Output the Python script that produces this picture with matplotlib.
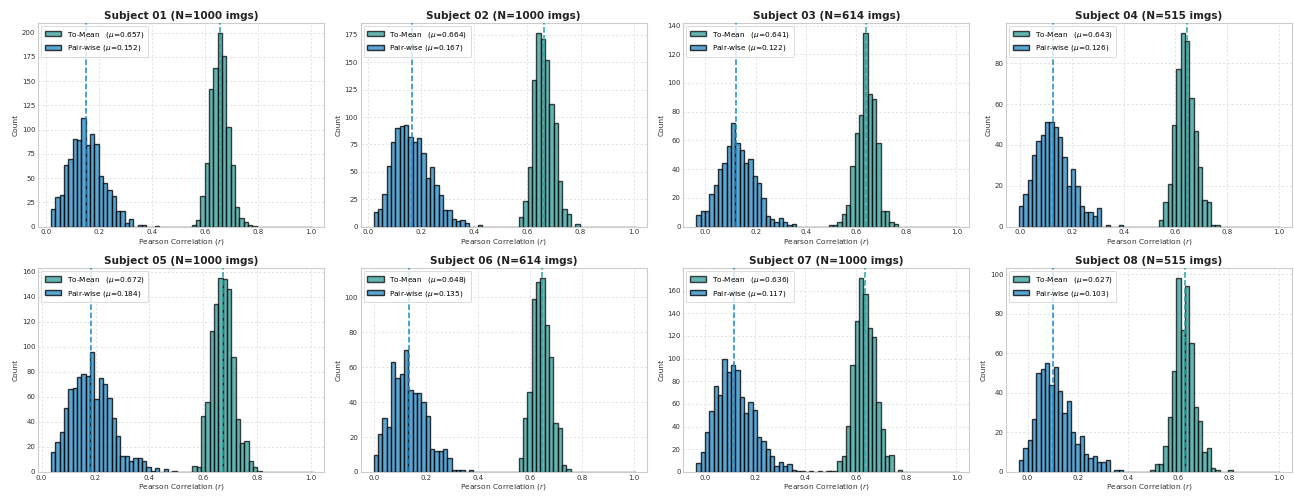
import numpy as np
import matplotlib.pyplot as plt
from matplotlib.ticker import MultipleLocator

N_BINS = 60

subjects = ["01", "02", "03", "04", "05", "06", "07", "08"]
n_imgs = [1000, 1000, 614, 515, 1000, 614, 1000, 515]
mean_tomean = [0.657, 0.664, 0.641, 0.643, 0.672, 0.648, 0.636, 0.627]
mean_pair = [0.152, 0.167, 0.122, 0.126, 0.184, 0.135, 0.117, 0.103]

# left edge of the first bin of each series
pair_start = [0.020, 0.022, -0.036, -0.004, 0.035, 0.000, -0.033, -0.034]
tomean_start = [0.550, 0.569, 0.491, 0.536, 0.559, 0.558, 0.492, 0.488]

# bin counts
pair_01 = [18, 30, 33, 64, 70, 90, 89, 112, 84, 96, 85, 52, 45, 38, 31, 16, 16, 4, 8, 0, 2, 2, 0, 0, 1]
pair_02 = [13, 16, 30, 55, 77, 90, 92, 93, 82, 77, 81, 67, 44, 54, 38, 29, 15, 15, 7, 5, 6, 3, 0, 0, 1]
pair_03 = [8, 11, 11, 23, 29, 40, 44, 56, 72, 58, 53, 44, 47, 35, 30, 20, 7, 5, 3, 6, 3, 1, 2]
pair_04 = [10, 16, 23, 35, 42, 45, 51, 51, 49, 44, 34, 20, 28, 20, 10, 7, 7, 5, 9, 0, 1, 0, 0, 1]
pair_05 = [16, 24, 32, 51, 66, 67, 76, 78, 77, 96, 58, 75, 70, 59, 43, 29, 13, 13, 9, 11, 11, 9, 4, 1, 3, 0, 2, 0, 1]
pair_06 = [10, 22, 31, 26, 63, 54, 56, 70, 47, 45, 45, 40, 32, 13, 12, 12, 13, 8, 1, 1, 1, 0, 1]
pair_07 = [8, 18, 35, 54, 76, 68, 100, 88, 94, 90, 66, 52, 62, 55, 31, 27, 20, 14, 5, 9, 5, 7, 2, 1, 1, 0, 1, 0, 1, 0, 1]
pair_08 = [6, 12, 16, 27, 50, 52, 55, 44, 53, 41, 30, 36, 20, 14, 18, 9, 7, 8, 5, 5, 6, 0, 1, 1]

tomean_01 = [2, 7, 32, 66, 142, 164, 200, 176, 103, 64, 20, 9, 5, 2, 1]
tomean_02 = [9, 23, 54, 134, 177, 171, 152, 112, 95, 42, 16, 11, 0, 2]
tomean_03 = [1, 1, 3, 9, 15, 42, 65, 78, 135, 92, 89, 58, 11, 11, 3, 2]
tomean_04 = [3, 12, 21, 50, 77, 95, 91, 63, 47, 29, 13, 12, 1, 1]
tomean_05 = [5, 4, 45, 56, 113, 134, 155, 154, 146, 92, 42, 23, 25, 9, 4, 1]
tomean_06 = [8, 31, 46, 99, 109, 111, 84, 66, 28, 25, 4, 2]
tomean_07 = [1, 1, 10, 14, 41, 94, 133, 171, 157, 127, 119, 62, 38, 14, 15, 0, 2]
tomean_08 = [1, 4, 4, 13, 28, 51, 98, 72, 94, 65, 33, 26, 10, 12, 2, 1, 0, 0, 1]

pair_counts = [pair_01, pair_02, pair_03, pair_04, pair_05, pair_06, pair_07, pair_08]
tomean_counts = [tomean_01, tomean_02, tomean_03, tomean_04, tomean_05, tomean_06, tomean_07, tomean_08]
y_steps = [25, 25, 20, 20, 20, 20, 20, 20]

TOMEAN_COLOR = "#2a9893"
PAIR_COLOR = "#2b8cc4"
TOMEAN_LINE = "#2aa3a0"
PAIR_LINE = "#1f88c8"


def padded(counts, start, width, stop):
    n = int(np.ceil((stop - start) / width - 1e-9))
    vals = list(counts) + [0] * max(0, n - len(counts))
    edges = start + width * np.arange(len(vals) + 1)
    return edges, np.array(vals, dtype=float)


fig, axes = plt.subplots(2, 4, figsize=(12.94, 4.96), dpi=100)
fig.subplots_adjust(left=0.0294, right=0.9985, top=0.9536, bottom=0.0484,
                    wspace=0.128, hspace=0.206)

for i, ax in enumerate(axes.flat):
    lo = pair_start[i]
    w = (1.0 - lo) / N_BINS

    e_tm, c_tm = padded(tomean_counts[i], tomean_start[i], w, 1.0)
    e_pw, c_pw = padded(pair_counts[i], lo, w, tomean_start[i])

    ax.hist(e_tm[:-1], bins=e_tm, weights=c_tm, color=TOMEAN_COLOR,
            edgecolor="black", linewidth=1.0, alpha=0.72,
            label=f"To-Mean   ($\\mu$={mean_tomean[i]:.3f})", zorder=2)
    ax.hist(e_pw[:-1], bins=e_pw, weights=c_pw, color=PAIR_COLOR,
            edgecolor="black", linewidth=1.0, alpha=0.78,
            label=f"Pair-wise ($\\mu$={mean_pair[i]:.3f})", zorder=2)

    ax.axvline(mean_tomean[i], color=TOMEAN_LINE, linestyle="--", linewidth=1.1, zorder=3)
    ax.axvline(mean_pair[i], color=PAIR_LINE, linestyle="--", linewidth=1.1, zorder=3)

    ax.set_xlim(lo - 0.05 * (1.0 - lo), 1.0 + 0.05 * (1.0 - lo))
    ax.set_xticks([0.0, 0.2, 0.4, 0.6, 0.8, 1.0])
    ax.yaxis.set_major_locator(MultipleLocator(y_steps[i]))

    ax.set_title(f"Subject {subjects[i]} (N={n_imgs[i]} imgs)", fontsize=7.6,
                 fontweight="bold", color="#222222", pad=3)
    ax.set_xlabel("Pearson Correlation ($r$)", fontsize=5.4, color="#333333", labelpad=1)
    ax.set_ylabel("Count", fontsize=5.4, color="#333333", labelpad=2)

    ax.tick_params(axis="both", length=0, labelsize=5.0, colors="#333333", pad=2)
    ax.grid(True, color="#dddddd", linestyle=(0, (2.5, 2.5)), linewidth=0.6, zorder=0)
    ax.set_axisbelow(True)
    for s in ax.spines.values():
        s.set_color("#cccccc")
        s.set_linewidth(0.8)

    leg = ax.legend(loc="upper left", fontsize=5.3, frameon=True, fancybox=True,
                    borderaxespad=0.4, handlelength=2.2, borderpad=0.5)
    leg.get_frame().set_edgecolor("#cccccc")
    leg.get_frame().set_linewidth(0.6)

fig.savefig("out.png", dpi=100)
